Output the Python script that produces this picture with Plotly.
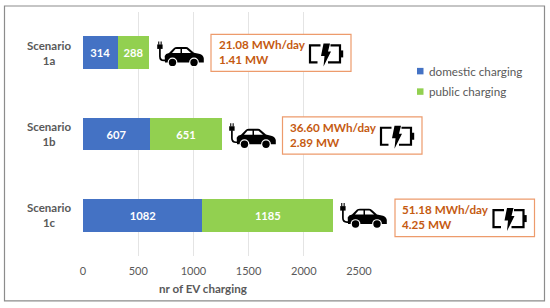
import plotly.graph_objects as go

scenarios = ["Scenario<br>1a", "Scenario<br>1b", "Scenario<br>1c"]
domestic = [314, 607, 1082]
public = [288, 651, 1185]
x_ticks = [0, 500, 1000, 1500, 2000, 2500]
energy_labels = ["21.08 MWh/day<br>1.41 MW", "36.60 MWh/day<br>2.89 MW", "51.18 MWh/day<br>4.25 MW"]
legend_names = ["domestic charging", "public charging"]
legend_colors = ["#4472c4", "#92d050"]

W, H = 550, 308
L, R, T, B = 83, 191, 11.5, 52
FONT = "Lato, Carlito, sans-serif"
ORANGE = "#c55a11"
BOX_LINE = "#ed9b6c"
GREY = "#595959"

pw, ph = W - L - R, H - T - B
px = lambda x: (x - L) / pw
py = lambda y: 1 - (y - T) / ph


def path_shape(points, **kw):
    d = ""
    for p in points:
        if isinstance(p, str):
            d += p
        else:
            d += f"{px(p[0]):.5f},{py(p[1]):.5f} "
    return dict(type="path", xref="paper", yref="paper", path=d, layer="above", **kw)


def rect(x0, y0, x1, y1, **kw):
    return dict(type="rect", xref="paper", yref="paper", x0=px(x0), x1=px(x1),
                y0=py(y0), y1=py(y1), layer="above", **kw)


def circle(cx, cy, r, **kw):
    return dict(type="circle", xref="paper", yref="paper", x0=px(cx - r), x1=px(cx + r),
                y0=py(cy - r), y1=py(cy + r), layer="above", **kw)


def car_icon(ox, oy):
    """Plug-in car; (ox, oy) is the top-left of the plug."""
    k = "black"
    s = []
    s.append(rect(ox + 1.2, oy, ox + 2.3, oy + 3.2, fillcolor=k, line_width=0))
    s.append(rect(ox + 3.6, oy, ox + 4.7, oy + 3.2, fillcolor=k, line_width=0))
    s.append(rect(ox + 0.2, oy + 3, ox + 5.6, oy + 7.5, fillcolor=k, line_width=0))
    s.append(path_shape(["M", (ox + 2.9, oy + 7), "L", (ox + 2.9, oy + 15), "Q", (ox + 2.9, oy + 19), " ",
                         (ox + 7, oy + 19), "L", (ox + 10, oy + 19)],
                        line=dict(color=k, width=1.7)))
    s.append(path_shape(["M", (ox + 8, oy + 21), "L", (ox + 7.7, oy + 14.5), "Q", (ox + 8.5, oy + 12.2), " ",
                         (ox + 12, oy + 11.5),
                         "L", (ox + 17, oy + 6.5), "Q", (ox + 18, oy + 5.6), " ", (ox + 20, oy + 5.6),
                         "L", (ox + 29, oy + 5.6), "Q", (ox + 30.5, oy + 5.6), " ", (ox + 32, oy + 7),
                         "L", (ox + 37, oy + 11.3),
                         "L", (ox + 43, oy + 12.7), "Q", (ox + 46.5, oy + 14), " ", (ox + 46.8, oy + 17),
                         "L", (ox + 46.8, oy + 21), "Z"],
                        fillcolor=k, line_width=0))
    s.append(path_shape(["M", (ox + 15, oy + 11.5), "L", (ox + 18.5, oy + 7.5), "L", (ox + 23.5, oy + 7.5),
                         "L", (ox + 23.5, oy + 11.5), "Z"], fillcolor="white", line_width=0))
    s.append(path_shape(["M", (ox + 25, oy + 7.5), "L", (ox + 29.5, oy + 7.5), "L", (ox + 34, oy + 11.5),
                         "L", (ox + 25, oy + 11.5), "Z"], fillcolor="white", line_width=0))
    for cx in (ox + 15.5, ox + 37):
        s.append(circle(cx, oy + 21, 4.9, fillcolor="white", line_width=0))
        s.append(circle(cx, oy + 21, 3.7, fillcolor=k, line_width=0))
    return s


def battery_icon(ox, oy):
    """Battery with bolt; (ox, oy) is top-left of the body."""
    k = "black"
    lw = 2.2
    s = []
    s.append(path_shape(["M", (ox + 10.5, oy), "L", (ox, oy), "L", (ox, oy + 17), "L", (ox + 7.5, oy + 17)],
                        line=dict(color=k, width=lw)))
    s.append(path_shape(["M", (ox + 20.5, oy), "L", (ox + 30, oy), "L", (ox + 30, oy + 17), "L", (ox + 18, oy + 17)],
                        line=dict(color=k, width=lw)))
    s.append(rect(ox + 30, oy + 5, ox + 33.2, oy + 12, fillcolor=k, line_width=0))
    s.append(path_shape(["M", (ox + 13.5, oy - 2), "L", (ox + 20, oy - 2), "L", (ox + 18, oy + 6), "L", (ox + 21, oy + 6),
                         "L", (ox + 13.5, oy + 21), "L", (ox + 14.5, oy + 10.5), "L", (ox + 11, oy + 10.5), "Z"],
                        fillcolor=k, line_width=0))
    return s


shapes = []
shapes.append(rect(4.5, 5.5, 544.5, 301, line=dict(color="#8c8c8c", width=1.2), fillcolor="rgba(0,0,0,0)"))

anns = []
box_pos = [(211, 34, 351, 71), (282.5, 116.5, 422, 154), (395, 199, 534.5, 236.5)]
car_pos = [(157, 41), (229, 123), (340, 203)]
for (x0, y0, x1, y1), (cx, cy), label in zip(box_pos, car_pos, energy_labels):
    shapes.append(rect(x0, y0, x1, y1, line=dict(color=BOX_LINE, width=1.2), fillcolor="white"))
    shapes += car_icon(cx, cy)
    shapes += battery_icon(x1 - 41, y0 + 11)
    anns.append(dict(xref="paper", yref="paper", x=px(x0 + 5.5), y=py((y0 + y1) / 2 - 1), xanchor="left", yanchor="middle",
                     text=f"<b>{label}</b>", showarrow=False, align="left",
                     font=dict(family=FONT, size=11.7, color=ORANGE)))

# category labels, centred as in the reference
for s in scenarios:
    anns.append(dict(xref="paper", yref="y", x=px(49), y=s, xanchor="center", yanchor="middle",
                     text=f"<b>{s}</b>", showarrow=False, align="center",
                     font=dict(family=FONT, size=11.5, color=GREY)))

# compact legend
for i, (name, col) in enumerate(zip(legend_names, legend_colors)):
    yc = 70.5 + 20.5 * i
    shapes.append(rect(417, yc - 3, 423.5, yc + 3.5, fillcolor=col, line_width=0))
    anns.append(dict(xref="paper", yref="paper", x=px(427), y=py(yc), xanchor="left", yanchor="middle",
                     text=name, showarrow=False, font=dict(family=FONT, size=11.7, color=GREY)))

fig = go.Figure()
fig.add_bar(name=legend_names[0], y=scenarios, x=domestic, orientation="h", marker_color=legend_colors[0],
            marker_line_width=0, text=domestic, textposition="inside", insidetextanchor="middle",
            textangle=0, textfont=dict(family=FONT, size=11.2, color="white", weight="bold"), hoverinfo="skip")
fig.add_bar(name=legend_names[1], y=scenarios, x=public, orientation="h", marker_color=legend_colors[1],
            marker_line_width=0, text=public, textposition="inside", insidetextanchor="middle",
            textangle=0, textfont=dict(family=FONT, size=11.2, color="white", weight="bold"), hoverinfo="skip")

fig.update_layout(
    width=W, height=H, autosize=False, barmode="stack", bargap=0.6,
    margin=dict(l=L, r=R, t=T, b=B, pad=0, autoexpand=False),
    paper_bgcolor="white", plot_bgcolor="white",
    font=dict(family=FONT, size=12, color=GREY),
    shapes=shapes, annotations=anns,
    showlegend=False,
)
fig.update_xaxes(range=[0, 2500], tickvals=x_ticks, showgrid=True, gridcolor="#e4e4e4", gridwidth=1,
                 zeroline=False, showline=False, ticks="", ticklabelstandoff=7,
                 tickfont=dict(size=11, color=GREY, family=FONT))
fig.update_yaxes(categoryorder="array", categoryarray=scenarios[::-1], showgrid=False, showline=False, ticks="",
                 showticklabels=False)
fig.add_annotation(xref="paper", yref="paper", x=px(203), y=py(289), xanchor="center", yanchor="middle",
                   text="<b>nr of EV charging</b>", showarrow=False, font=dict(family=FONT, size=11.6, color=GREY))

fig.write_html("out.html", config={"displayModeBar": False},
               post_script="document.body.style.margin='0';document.body.style.overflow='hidden';")
